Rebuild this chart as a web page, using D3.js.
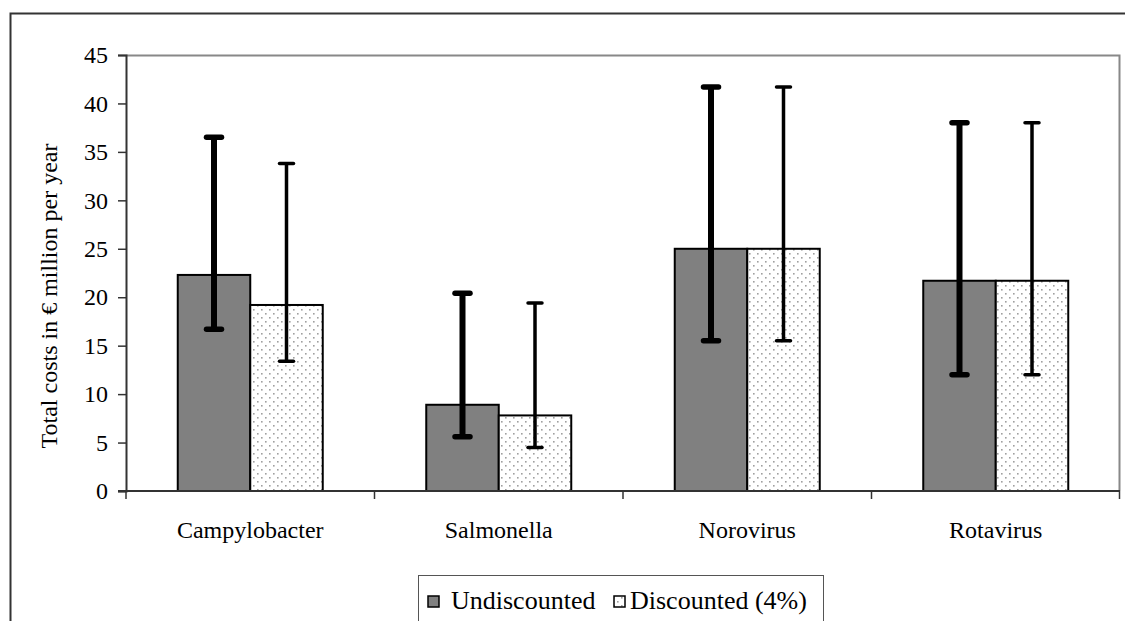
<!DOCTYPE html>
<html>
<head>
<meta charset="utf-8">
<script src="https://cdn.jsdelivr.net/npm/d3@7"></script>
<style>
  html, body { margin: 0; padding: 0; background: #fff; }
  svg { display: block; }
  svg text { fill: #000; }
</style>
</head>
<body>
<svg id="chart" width="1125" height="621"></svg>
<script>
// Pathogens on the x axis
const categories = ["Campylobacter", "Salmonella", "Norovirus", "Rotavirus"];
const seriesNames = ["Undiscounted", "Discounted (4%)"];

// Total costs (€ million per year) with lower / upper bounds
const undiscounted      = [22.3, 8.9, 25.0, 21.7];
const undiscountedLow   = [16.7, 5.6, 15.5, 12.0];
const undiscountedHigh  = [36.5, 20.4, 41.7, 38.0];
const discounted        = [19.2, 7.8, 25.0, 21.7];
const discountedLow     = [13.4, 4.5, 15.5, 12.0];
const discountedHigh    = [33.8, 19.4, 41.7, 38.0];

const yTicks = [0, 5, 10, 15, 20, 25, 30, 35, 40, 45];

const svg = d3.select("#chart");
const serif = '"Liberation Serif", "Times New Roman", Times, serif';

// Pattern for the dotted (discounted) bars
const defs = svg.append("defs");
const pat = defs.append("pattern")
  .attr("id", "dots")
  .attr("patternUnits", "userSpaceOnUse")
  .attr("width", 8).attr("height", 8);
pat.append("rect").attr("width", 8).attr("height", 8).attr("fill", "#fff");
pat.append("rect").attr("x", 1).attr("y", 1).attr("width", 1.6).attr("height", 1.6).attr("fill", "#a0a0a0");
pat.append("rect").attr("x", 5).attr("y", 5).attr("width", 1.6).attr("height", 1.6).attr("fill", "#a0a0a0");

// Outer chart frame (left and top edges visible)
svg.append("path")
  .attr("d", "M10.5,621 V13.5 H1125")
  .attr("fill", "none").attr("stroke", "#333").attr("stroke-width", 2);

const plot = { left: 126, right: 1120, top: 55, bottom: 491 };

const x = d3.scaleBand().domain(categories).range([plot.left, plot.right]);
const y = d3.scaleLinear().domain([0, 45]).range([plot.bottom, plot.top]);

const barW = 72.5;

// Plot area border (top and right)
svg.append("path")
  .attr("d", `M${plot.left},${plot.top + 0.5} H${plot.right - 0.5} V${plot.bottom}`)
  .attr("fill", "none").attr("stroke", "#888").attr("stroke-width", 2);

// Bars
const rows = categories.map((c, i) => ({
  cat: c,
  vals: [
    { s: 0, v: undiscounted[i], lo: undiscountedLow[i], hi: undiscountedHigh[i] },
    { s: 1, v: discounted[i], lo: discountedLow[i], hi: discountedHigh[i] }
  ]
}));

const groups = svg.append("g").selectAll("g").data(rows).join("g");

groups.selectAll("rect.bar").data(d => d.vals.map(v => ({ ...v, cat: d.cat })))
  .join("rect")
  .attr("class", "bar")
  .attr("x", d => x(d.cat) + x.bandwidth() / 2 - barW + d.s * barW)
  .attr("y", d => y(d.v))
  .attr("width", barW)
  .attr("height", d => y(0) - y(d.v))
  .attr("fill", d => d.s === 0 ? "#808080" : "url(#dots)")
  .attr("stroke", "#000")
  .attr("stroke-width", 2);

// Error bars
const errStyle = [
  { w: 6, capW: 15, capH: 5.5 },
  { w: 3.5, capW: 14, capH: 3.5 }
];
groups.selectAll("g.err").data(d => d.vals.map(v => ({ ...v, cat: d.cat })))
  .join("g")
  .attr("class", "err")
  .each(function(d) {
    const g = d3.select(this);
    const cx = x(d.cat) + x.bandwidth() / 2 - barW / 2 + d.s * barW;
    const st = errStyle[d.s];
    g.append("line")
      .attr("x1", cx).attr("x2", cx)
      .attr("y1", y(d.lo)).attr("y2", y(d.hi))
      .attr("stroke", "#000").attr("stroke-width", st.w);
    [d.lo, d.hi].forEach(v => {
      g.append("line")
        .attr("x1", cx - st.capW / 2).attr("x2", cx + st.capW / 2)
        .attr("y1", y(v)).attr("y2", y(v))
        .attr("stroke", "#000").attr("stroke-width", st.capH)
        .attr("stroke-linecap", "round");
    });
  });

// Y axis
const yAxis = svg.append("g")
  .attr("transform", `translate(${plot.left},0)`)
  .call(d3.axisLeft(y).tickValues(yTicks).tickSize(8).tickPadding(10));
yAxis.attr("font-family", serif).attr("font-size", 24);
yAxis.select(".domain").attr("stroke", "#333").attr("stroke-width", 2);
yAxis.selectAll(".tick line").attr("stroke", "#333").attr("stroke-width", 1.5);
yAxis.selectAll(".tick text").attr("fill", "#000");

// X axis
const xAxis = svg.append("g")
  .attr("transform", `translate(0,${plot.bottom})`)
  .call(d3.axisBottom(x).tickSize(0).tickPadding(30));
xAxis.attr("font-family", serif).attr("font-size", 24);
xAxis.select(".domain").remove();
xAxis.selectAll(".tick text").attr("fill", "#000");
svg.append("line")
  .attr("x1", plot.left - 8).attr("x2", plot.right)
  .attr("y1", plot.bottom).attr("y2", plot.bottom)
  .attr("stroke", "#333").attr("stroke-width", 2);
// Category boundary ticks
const bounds = categories.map(c => x(c)).concat([plot.right - 0.5]);
svg.append("g").selectAll("line").data(bounds).join("line")
  .attr("x1", d => d).attr("x2", d => d)
  .attr("y1", plot.bottom).attr("y2", plot.bottom + 8)
  .attr("stroke", "#333").attr("stroke-width", 1.5);

// Y axis title
svg.append("text")
  .attr("transform", "translate(57,296) rotate(-90)")
  .attr("text-anchor", "middle")
  .attr("font-family", serif)
  .attr("font-size", 24)
  .text("Total costs in € million per year");

// Legend
const legend = svg.append("g").attr("font-family", serif);
legend.append("rect")
  .attr("x", 418.5).attr("y", 575.5).attr("width", 405).attr("height", 60)
  .attr("fill", "#fff").attr("stroke", "#555").attr("stroke-width", 1);
const legX = [428, 614];
const legTextX = [451, 630];
seriesNames.forEach((name, i) => {
  legend.append("rect")
    .attr("x", legX[i]).attr("y", 596).attr("width", 11).attr("height", 11)
    .attr("fill", i === 0 ? "#808080" : "url(#dots)")
    .attr("stroke", "#000").attr("stroke-width", 1.5);
  legend.append("text")
    .attr("x", legTextX[i]).attr("y", 609)
    .attr("font-size", 26)
    .text(name);
});
</script>
</body>
</html>
